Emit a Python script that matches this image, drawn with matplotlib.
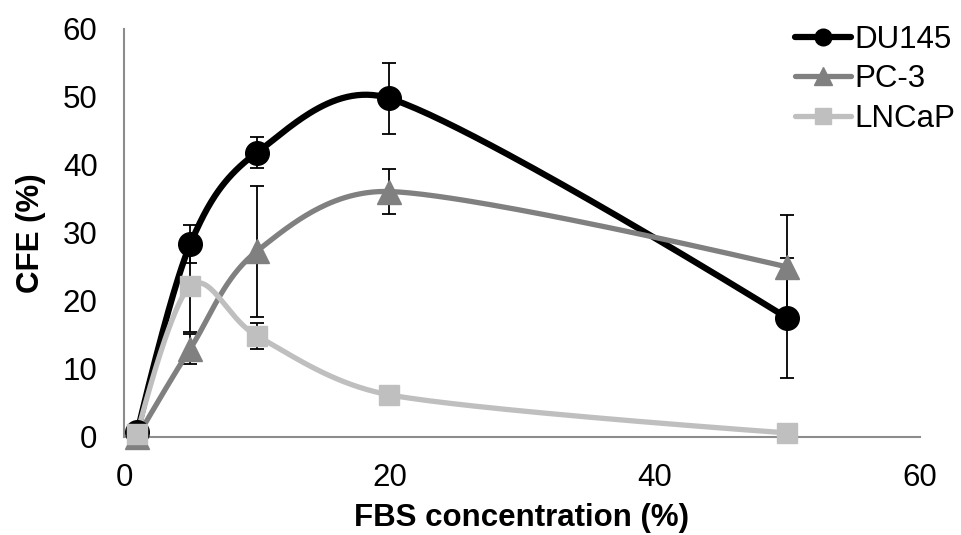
import numpy as np
import matplotlib
matplotlib.use("Agg")
from matplotlib import pyplot as plt

plt.rcParams['font.family'] = ['Liberation Sans', 'DejaVu Sans']

# --- data ---
fbs = [1, 5, 10, 20, 50]
du145 = [0.7, 28.4, 41.8, 49.8, 17.5]
du145_err = [0, 2.8, 2.3, 5.2, 8.8]
pc3 = [0.0, 13.0, 27.3, 36.1, 25.0]
pc3_err = [0, 2.2, 9.6, 3.3, 7.7]
lncap = [0.5, 22.2, 14.9, 6.2, 0.6]
lncap_err = [0, 6.8, 1.9, 0, 0]

# pixel scale of the plot area (smoothing is done in screen space, like Excel)
SX = 796 / 60.0
SY = 408 / 60.0


def smooth(x, y, cap=0.4, n=60):
    # Excel-like smoothed line: Catmull-Rom Bezier, control arms limited by segment length
    p = np.column_stack([np.array(x) * SX, np.array(y) * SY]).astype(float)
    m = len(p)
    before = p.copy()
    after = p.copy()
    for i in range(1, m - 1):
        tan = (p[i + 1] - p[i - 1]) / 6.0
        L = np.hypot(*tan)
        d01 = np.hypot(*(p[i] - p[i - 1]))
        d12 = np.hypot(*(p[i + 1] - p[i]))
        a = tan * min(1.0, cap * d01 / L)
        b = tan * min(1.0, cap * d12 / L)
        before[i] = p[i] - a
        after[i] = p[i] + b
    t = np.linspace(0, 1, n)[:, None]
    out = []
    for i in range(m - 1):
        p0, c1, c2, p3 = p[i], after[i], before[i + 1], p[i + 1]
        seg = ((1 - t) ** 3) * p0 + 3 * ((1 - t) ** 2) * t * c1 + 3 * (1 - t) * t ** 2 * c2 + t ** 3 * p3
        out.append(seg)
    out = np.vstack(out)
    return out[:, 0] / SX, out[:, 1] / SY


fig = plt.figure(figsize=(9.61, 5.35), dpi=100)
ax = fig.add_axes([124 / 961, 98 / 535, 796 / 961, 408 / 535])

series = [
    ("DU145", du145, du145_err, "black", "o", 17, 4.5, 12),
    ("PC-3", pc3, pc3_err, "#808080", "^", 17, 3.8, 13),
    ("LNCaP", lncap, lncap_err, "#bfbfbf", "s", 14, 3.8, 11),
]

for name, vals, err, col, mk, ms, lw, lms in series:
    sx, sy = smooth(fbs, vals)
    ax.errorbar(fbs, vals, yerr=err, fmt='none', ecolor='black', elinewidth=1.3,
                capsize=5, capthick=1.3, zorder=2)
    ax.plot(sx, sy, '-', color=col, linewidth=lw, zorder=3, solid_capstyle='round')
    ax.plot(fbs, vals, mk, color=col, markersize=ms, zorder=4)
    ax.plot([], [], '-', marker=mk, color=col, linewidth=lw, markersize=lms,
            label=name, solid_capstyle='round')

ax.set_xlim(0, 60)
ax.set_ylim(0, 60)
ax.set_xticks(np.arange(0, 61, 20))
ax.set_yticks(np.arange(0, 61, 10))
ax.tick_params(length=0, labelsize=22.5)
ax.tick_params(axis='x', pad=19)
ax.tick_params(axis='y', pad=19)
for s in ['top', 'right']:
    ax.spines[s].set_visible(False)
for s in ['left', 'bottom']:
    ax.spines[s].set_color('#8c8c8c')
    ax.spines[s].set_linewidth(1.5)
for art in ax.lines + ax.collections:
    art.set_clip_on(False)

ax.set_xlabel("FBS concentration (%)", fontsize=22.5, fontweight='bold', labelpad=7)
ax.set_ylabel("CFE (%)", fontsize=22.5, fontweight='bold', labelpad=12)

ax.legend(loc='upper left', bbox_to_anchor=(795 / 961, 1 - 25 / 535), bbox_transform=fig.transFigure,
          frameon=False, fontsize=22.5, handlelength=1.8, handletextpad=0.1,
          labelspacing=0.3, borderaxespad=0, borderpad=0)

fig.savefig("out.png", dpi=100)
